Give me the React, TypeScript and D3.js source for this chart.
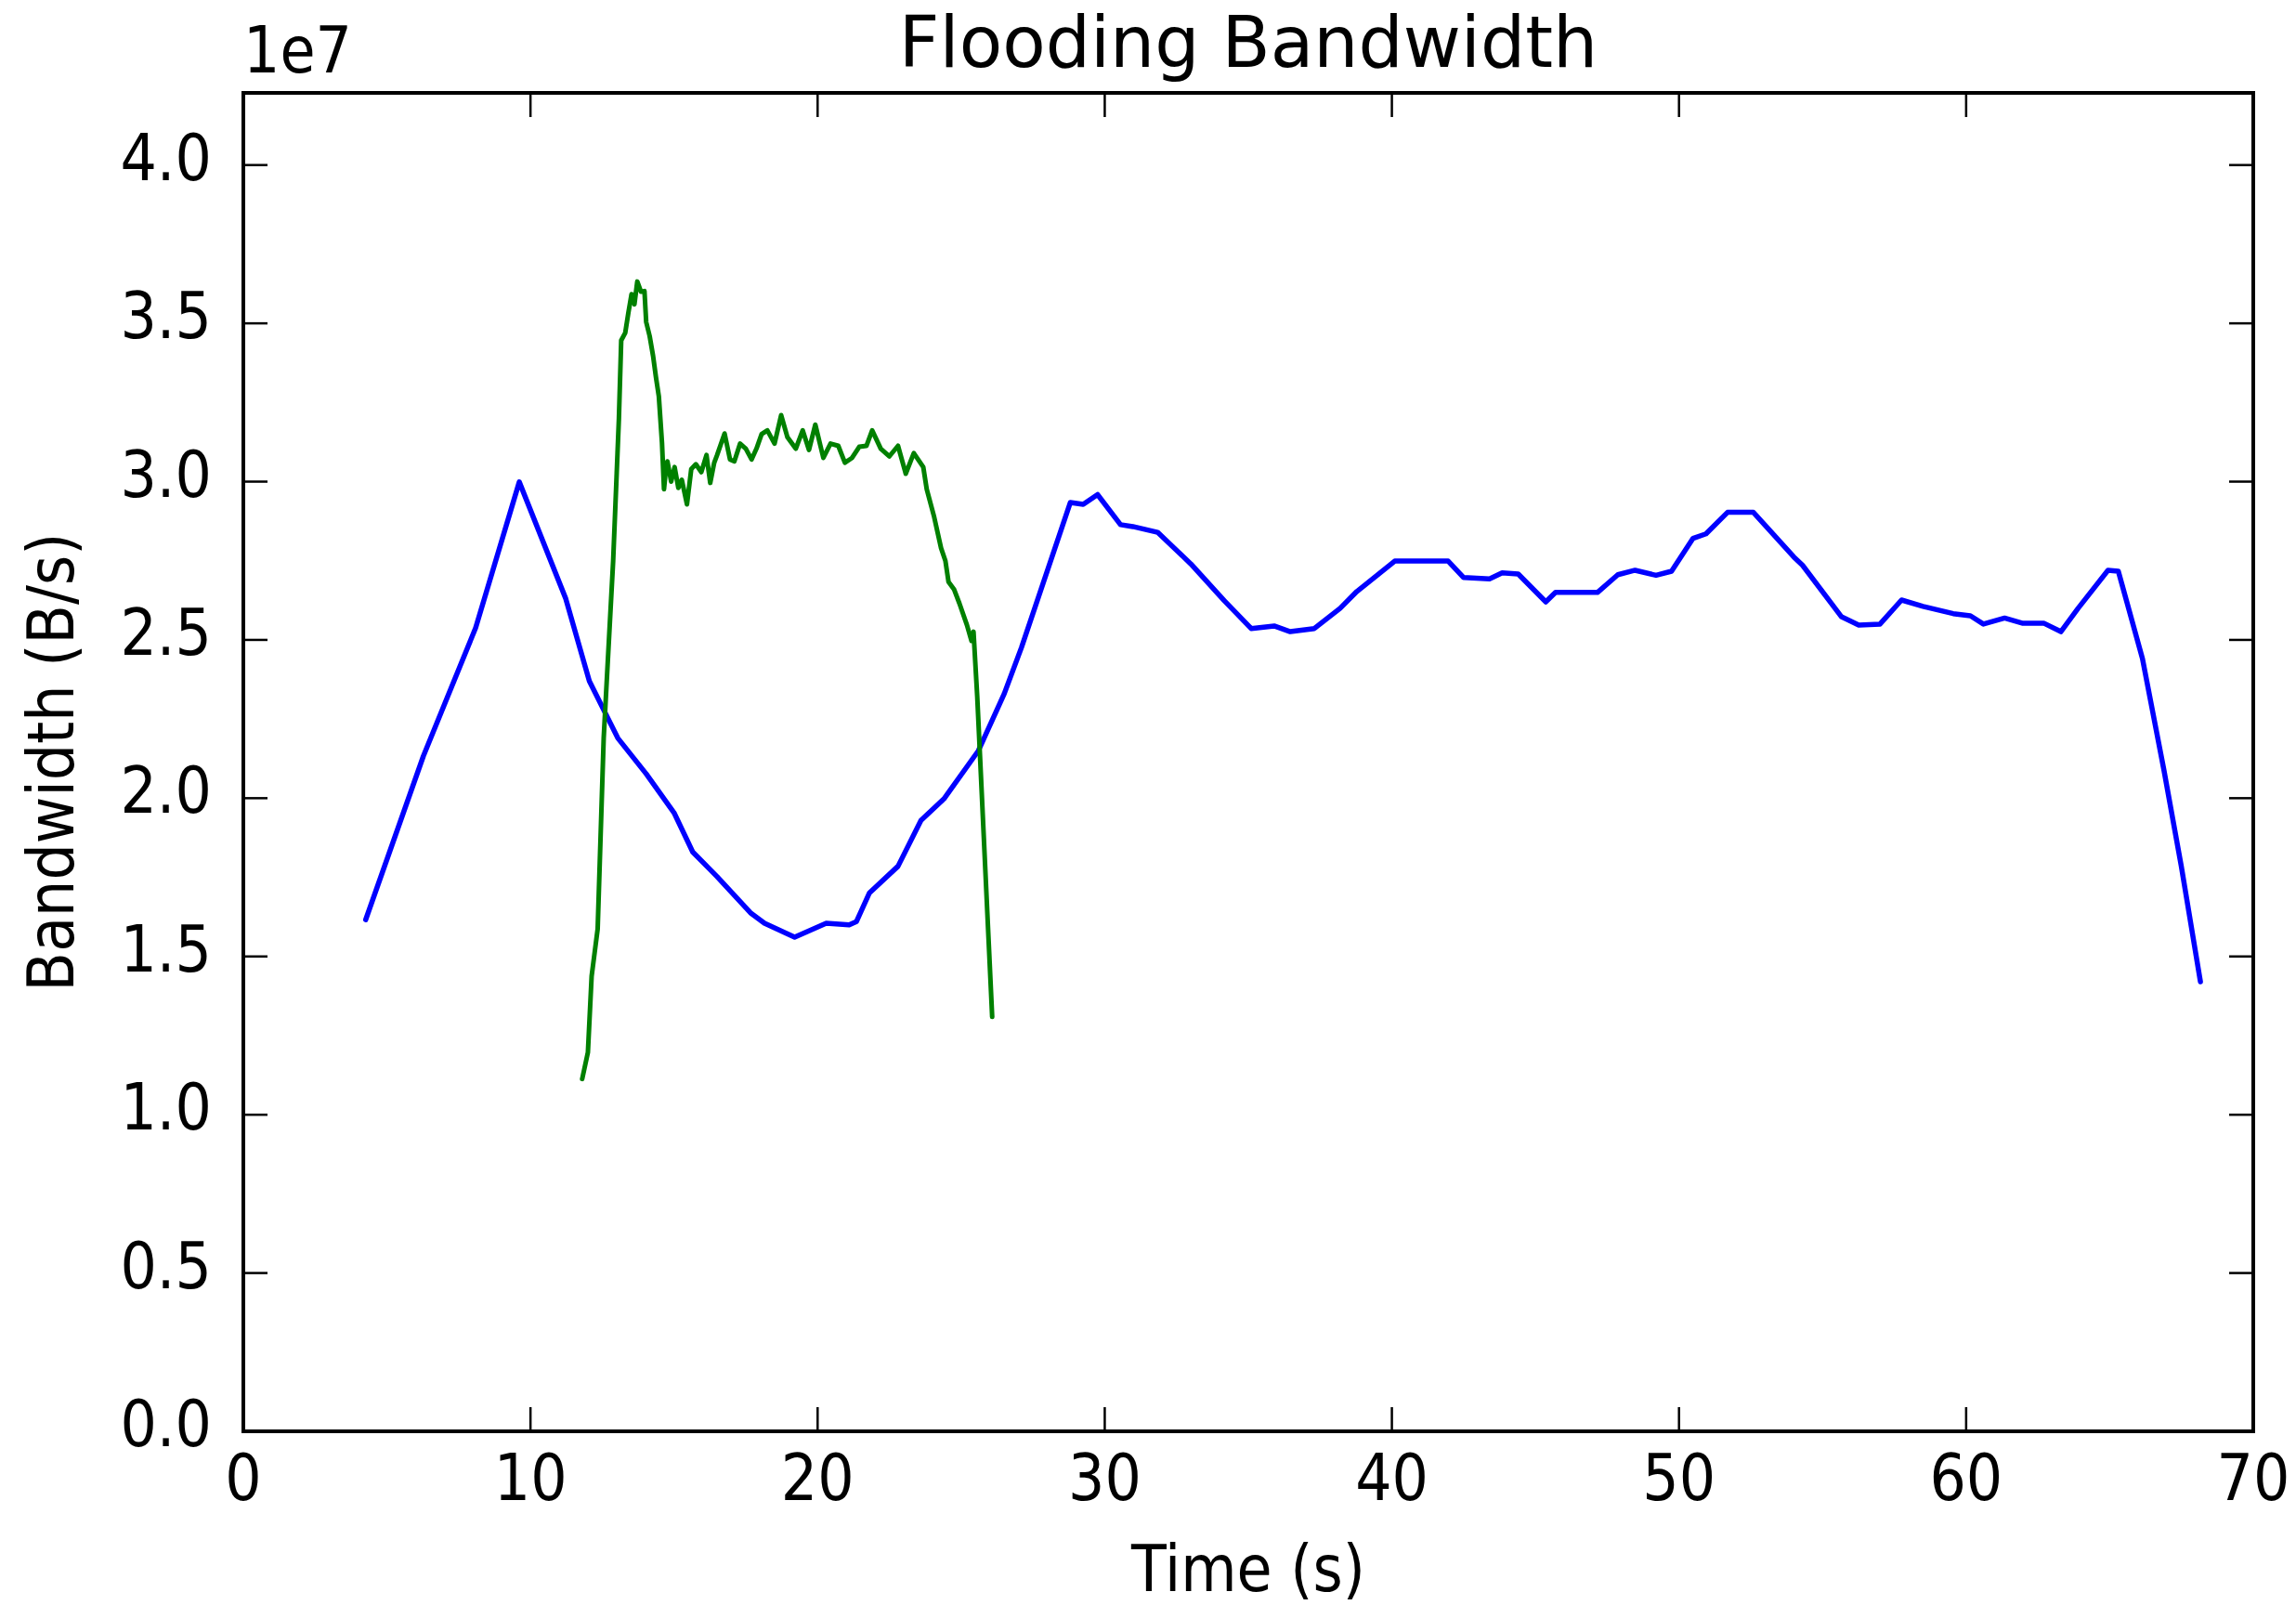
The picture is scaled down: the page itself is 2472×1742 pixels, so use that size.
import React from "react";
import * as d3 from "d3";

const W = 2472;
const H = 1742;

// Blue series (time s, bandwidth B/s)
const blueTime = [4.26, 6.27, 8.09, 9.61, 11.23, 12.05, 13.04, 14.03, 15.0, 15.65, 16.5, 17.66, 18.15, 19.2, 20.3, 21.1, 21.35, 21.8, 22.8, 23.6, 24.4, 25.6, 26.5, 27.1, 28.8, 29.25, 29.75, 30.55, 30.98, 31.84, 33.0, 34.16, 35.1, 35.9, 36.46, 37.3, 38.2, 38.78, 40.1, 41.96, 42.5, 43.4, 43.84, 44.4, 45.36, 45.7, 47.16, 47.87, 48.47, 49.2, 49.74, 50.49, 50.94, 51.69, 52.59, 54.0, 54.3, 55.66, 56.26, 57.0, 57.75, 58.5, 59.55, 60.15, 60.6, 61.34, 61.95, 62.7, 63.3, 63.9, 64.94, 65.3, 66.14, 66.89, 67.49, 68.16];
const blueBw = [1.616, 2.133, 2.538, 2.999, 2.63, 2.37, 2.19, 2.077, 1.954, 1.83, 1.752, 1.638, 1.605, 1.561, 1.605, 1.6, 1.61, 1.7, 1.785, 1.93, 1.998, 2.15, 2.33, 2.476, 2.934, 2.928, 2.959, 2.864, 2.858, 2.84, 2.74, 2.624, 2.536, 2.544, 2.526, 2.536, 2.6, 2.653, 2.749, 2.749, 2.697, 2.693, 2.712, 2.708, 2.62, 2.65, 2.65, 2.706, 2.72, 2.704, 2.717, 2.821, 2.835, 2.903, 2.903, 2.762, 2.736, 2.573, 2.547, 2.55, 2.626, 2.606, 2.583, 2.576, 2.55, 2.569, 2.553, 2.553, 2.526, 2.6, 2.72, 2.717, 2.441, 2.088, 1.787, 1.42].map((v) => v * 1e7);

// Green series (time s, bandwidth B/s)
const greenTime = [11.8, 12.0, 12.13, 12.34, 12.55, 12.88, 13.08, 13.16, 13.3, 13.41, 13.52, 13.62, 13.72, 13.85, 13.97, 14.03, 14.15, 14.27, 14.37, 14.47, 14.58, 14.65, 14.72, 14.77, 14.9, 15.02, 15.15, 15.27, 15.45, 15.6, 15.76, 15.95, 16.13, 16.26, 16.4, 16.5, 16.76, 16.95, 17.1, 17.3, 17.5, 17.7, 17.87, 18.05, 18.25, 18.5, 18.73, 18.95, 19.24, 19.48, 19.7, 19.92, 20.2, 20.45, 20.72, 20.95, 21.2, 21.45, 21.7, 21.9, 22.2, 22.5, 22.8, 23.07, 23.35, 23.68, 23.8, 24.06, 24.3, 24.45, 24.56, 24.75, 24.94, 25.2, 25.36, 25.43, 25.56, 26.08];
const greenBw = [1.113, 1.197, 1.438, 1.587, 2.19, 2.75, 3.2, 3.446, 3.47, 3.534, 3.592, 3.56, 3.632, 3.6, 3.602, 3.504, 3.46, 3.397, 3.33, 3.27, 3.123, 2.976, 3.04, 3.064, 3.0, 3.046, 2.98, 3.006, 2.928, 3.04, 3.055, 3.03, 3.084, 2.996, 3.06, 3.084, 3.152, 3.07, 3.064, 3.12, 3.104, 3.07, 3.104, 3.15, 3.162, 3.12, 3.21, 3.14, 3.104, 3.162, 3.1, 3.18, 3.075, 3.12, 3.113, 3.06, 3.075, 3.11, 3.113, 3.162, 3.104, 3.08, 3.113, 3.025, 3.09, 3.046, 2.976, 2.888, 2.79, 2.75, 2.683, 2.66, 2.615, 2.547, 2.497, 2.526, 2.32, 1.309].map((v) => v * 1e7);

const xTicks = [0, 10, 20, 30, 40, 50, 60, 70];
const yTicks = [0, 0.5e7, 1e7, 1.5e7, 2e7, 2.5e7, 3e7, 3.5e7, 4e7];

const title = "Flooding Bandwidth";
const xLabel = "Time (s)";
const yLabel = "Bandwidth (B/s)";
const offsetLabel = "1e7";

const M = { left: 262, right: 2426, top: 100, bottom: 1541 };
const FONT = "'DejaVu Sans', sans-serif";
const TICK_FS = 62;
const SY = 1.12;

export default function App() {
  const x = d3.scaleLinear().domain([0, 70]).range([M.left, M.right]);
  const y = d3.scaleLinear().domain([0, 4.228e7]).range([M.bottom, M.top]);

  const line = d3
    .line<[number, number]>()
    .x((d) => x(d[0]))
    .y((d) => y(d[1]));

  const blue: [number, number][] = blueTime.map((t, i) => [t, blueBw[i]]);
  const green: [number, number][] = greenTime.map((t, i) => [t, greenBw[i]]);

  const tickLen = 26;

  return (
    <svg
      width={W}
      height={H}
      style={{ position: "absolute", left: 0, top: 0, background: "#fff" }}
      fontFamily={FONT}
    >
      <rect x={0} y={0} width={W} height={H} fill="#fff" />
      <defs>
        <clipPath id="plotclip">
          <rect x={M.left} y={M.top} width={M.right - M.left} height={M.bottom - M.top} />
        </clipPath>
      </defs>

      <g clipPath="url(#plotclip)">
        <path d={line(blue) || ""} fill="none" stroke="#0000ff" strokeWidth={5.5} strokeLinejoin="round" strokeLinecap="round" />
        <path d={line(green) || ""} fill="none" stroke="#008000" strokeWidth={5} strokeLinejoin="round" strokeLinecap="round" />
      </g>

      {/* ticks */}
      {xTicks.map((t) => (
        <g key={"xt" + t}>
          <line x1={x(t)} x2={x(t)} y1={M.bottom} y2={M.bottom - tickLen} stroke="#000" strokeWidth={2.5} />
          <line x1={x(t)} x2={x(t)} y1={M.top} y2={M.top + tickLen} stroke="#000" strokeWidth={2.5} />
          <text
            transform={`translate(${x(t)},${1615}) scale(1,${SY})`}
            textAnchor="middle"
            fontSize={TICK_FS}
            fill="#000"
          >
            {t}
          </text>
        </g>
      ))}
      {yTicks.map((t) => (
        <g key={"yt" + t}>
          <line x1={M.left} x2={M.left + tickLen} y1={y(t)} y2={y(t)} stroke="#000" strokeWidth={2.5} />
          <line x1={M.right} x2={M.right - tickLen} y1={y(t)} y2={y(t)} stroke="#000" strokeWidth={2.5} />
          <text
            transform={`translate(${228},${y(t) + 16}) scale(1,${SY})`}
            textAnchor="end"
            fontSize={TICK_FS}
            fill="#000"
          >
            {(t / 1e7).toFixed(1)}
          </text>
        </g>
      ))}

      {/* frame */}
      <rect
        x={M.left}
        y={M.top}
        width={M.right - M.left}
        height={M.bottom - M.top}
        fill="none"
        stroke="#000"
        strokeWidth={4}
      />

      <text transform={`translate(${M.left},${78}) scale(1,${SY})`} fontSize={TICK_FS} fill="#000">
        {offsetLabel}
      </text>

      <text
        x={(M.left + M.right) / 2}
        y={72}
        textAnchor="middle"
        fontSize={76}
        fill="#000"
      >
        {title}
      </text>

      <text
        transform={`translate(${(M.left + M.right) / 2},${1713}) scale(1,${SY})`}
        textAnchor="middle"
        fontSize={TICK_FS}
        fill="#000"
      >
        {xLabel}
      </text>

      <text
        transform={`translate(${79},${(M.top + M.bottom) / 2}) rotate(-90) scale(1,${SY})`}
        textAnchor="middle"
        fontSize={TICK_FS}
        fill="#000"
      >
        {yLabel}
      </text>
    </svg>
  );
}
